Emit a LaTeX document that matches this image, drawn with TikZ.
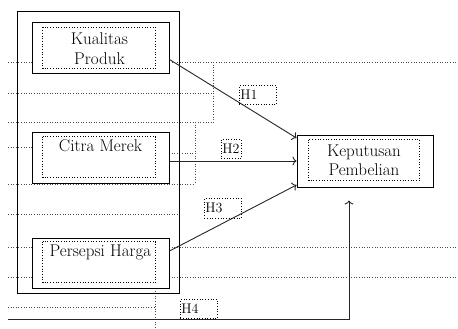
\documentclass[tikz,border=0pt]{standalone}
\usepackage{tikz}
\usetikzlibrary{positioning}
\usetikzlibrary{arrows.meta}

\begin{document}
\begin{tikzpicture}[x=1pt, y=-1pt]
        % Style definitions
        \tikzset{
            varbox/.style={draw, fill=white, line width=1pt, minimum width=137, minimum height=51, inner sep=0pt},
            vartext/.style={align=center, inner sep=0pt, font=\fontsize{17}{20}\selectfont},
            innerframe/.style={dotted, line width=0.7pt},
            guide/.style={dotted, line width=0.6pt, black!70},
            link/.style={line width=0.9pt, black!85, -{To[length=4pt, width=9pt]}},
            hbox/.style={draw, dotted, line width=0.7pt, anchor=north west, minimum height=19, inner sep=1pt, align=left, font=\fontsize{14}{14}\selectfont}
        }
        \useasboundingbox (0,0) rectangle (458,329);

        % ==========================================
        % DOTTED GUIDE LINES (behind everything)
        % ==========================================
        \draw[guide] (8,62) -- (458,62);
        \draw[guide] (8,93) -- (213,93);
        \draw[guide] (8,122) -- (213,122);
        \draw[guide] (213,62) -- (213,122);
        \draw[guide] (8,147) -- (32,147);
        \draw[guide] (169,153) -- (195,153);
        \draw[guide] (195,122) -- (195,184);
        \draw[guide] (8,184) -- (195,184);
        \draw[guide] (8,214) -- (178,214);
        \draw[guide] (8,247) -- (458,247);
        \draw[guide] (8,277) -- (458,277);
        \draw[guide] (8,307) -- (155,307);
        \draw[guide] (155,288) -- (155,329);

        % ==========================================
        % INDEPENDENT VARIABLES
        % ==========================================
        \draw[line width=1pt] (17,12) rectangle (179,293);

        \node[varbox] (kp) at (100.5,48.5) {};
        \draw[innerframe] ([shift={(11,5)}]kp.north west) rectangle ([shift={(-14,-6)}]kp.south east);
        \node[vartext] (kptext) at ([shift={(-1,0)}]kp.center) {Kualitas\\Produk};

        \node[varbox] (cm) at (100.5,157.5) {};
        \draw[innerframe] ([shift={(11,5)}]cm.north west) rectangle ([shift={(-14,-6)}]cm.south east);
        \node[vartext, below=8pt of cm.north] (cmtext) {Citra Merek};

        \node[varbox, minimum height=50] (ph) at (100.5,263) {};
        \draw[innerframe] ([shift={(11,4)}]ph.north west) rectangle ([shift={(-14,-6)}]ph.south east);
        \node[vartext, below=7pt of ph.north] (phtext) {Persepsi Harga};

        % ==========================================
        % DEPENDENT VARIABLE
        % ==========================================
        \node[varbox, minimum width=136, minimum height=52] (kep) at (365,161) {};
        \draw[innerframe] ([shift={(12,5)}]kep.north west) rectangle ([shift={(-14,-7)}]kep.south east);
        \node[vartext, font=\fontsize{17}{19}\selectfont] (keptext) at ([shift={(-1,-1)}]kep.center) {Keputusan\\Pembelian};

        % ==========================================
        % HYPOTHESES
        % ==========================================
        \draw[link] ([shift={(0,11)}]kp.east) -- ([shift={(0,-23)}]kep.west);
        \draw[link] (cm.east |- kep.west) -- (kep.west);
        \draw[link] ([shift={(0,-12)}]ph.east) -- ([shift={(0,24)}]kep.west);
        \coordinate (h4start) at (8,319);
        \draw[link] (h4start) -| ([shift={(-16,13)}]kep.south);

        \node[hbox, text width=35] (h1) at (239,85) {H1};
        \node[hbox, text width=18] (h2) at (221,139) {H2};
        \node[hbox, text width=35, minimum height=20] (h3) at (204,198) {H3};
        \node[hbox, text width=35] (h4) at (180,299) {H4};
    \end{tikzpicture}
\end{document}
